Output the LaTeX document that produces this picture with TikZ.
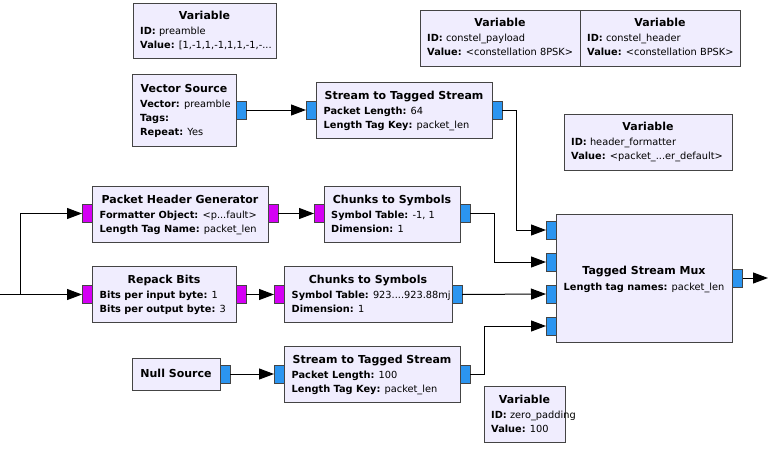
\documentclass[tikz,border=0pt]{standalone}
\usepackage{fontspec}
\setmainfont{DejaVu Sans}
\usetikzlibrary{arrows.meta}
\definecolor{blkfill}{HTML}{F0EDFE}
\definecolor{bordc}{HTML}{444444}
\definecolor{portblue}{HTML}{2B95F0}
\definecolor{portmag}{HTML}{D400F4}
\newcommand{\ttlfont}{\fontsize{11}{13}\selectfont\bfseries}
\newcommand{\bodyfont}{\fontsize{9.8}{12}\selectfont}
\newcommand{\kv}[2]{\textbf{#1} #2}
\tikzset{
  blk/.style={draw=bordc, fill=blkfill, line width=1pt, anchor=north west, inner sep=0pt, outer sep=0pt},
  bport/.style={draw=bordc, fill=portblue, line width=0.8pt, minimum width=10pt, minimum height=18pt, inner sep=0pt, outer sep=0pt},
  mport/.style={bport, fill=portmag},
  ttl/.style={font=\ttlfont, anchor=base, inner sep=0pt},
  txt/.style={font=\bodyfont, anchor=base west, inner sep=0pt},
  wire/.style={line width=1pt, -{Triangle[length=15pt,width=11pt]}},
  plain/.style={line width=1pt},
}
\begin{document}
\begin{tikzpicture}[x=1pt,y=-1pt]
\useasboundingbox (0,0) rectangle (768,450);
% ---------- boxes ----------
\node[blk, minimum width=143pt, minimum height=55pt] (var1) at (133,3) {};
\node[blk, minimum width=104pt, minimum height=72pt] (vs) at (132,74) {};
\node[blk, minimum width=176pt, minimum height=56pt] (stst) at (316,82) {};
\node[blk, minimum width=160pt, minimum height=56pt] (varp) at (420,10) {};
\node[blk, minimum width=160pt, minimum height=56pt] (varh) at (580,10) {};
\node[blk, minimum width=168pt, minimum height=56pt] (varhf) at (564,114) {};
\node[blk, minimum width=176pt, minimum height=56pt] (phg) at (92,186) {};
\node[blk, minimum width=136pt, minimum height=56pt] (cht) at (324,186) {};
\node[blk, minimum width=144pt, minimum height=56pt] (rp) at (92,266) {};
\node[blk, minimum width=168pt, minimum height=56pt] (chb) at (284,266) {};
\node[blk, minimum width=176pt, minimum height=128pt] (mux) at (556,214) {};
\node[blk, minimum width=88pt, minimum height=32pt] (nul) at (132,358) {};
\node[blk, minimum width=176pt, minimum height=56pt] (stsb) at (284,346) {};
\node[blk, minimum width=81pt, minimum height=56pt] (varz) at (484,386) {};
% ---------- texts ----------
\node[ttl] (t1a) at (204.5,19) {Variable};
\node[txt] (t1b) at (140,34) {\kv{ID:}{preamble}};
\node[txt] (t1c) at (140,48) {\kv{Value:}{[1,-1,1,-1,1,1,-1,-...}};

\node[ttl] (t2a) at (184,92) {Vector Source};
\node[txt] (t2b) at (140,107) {\kv{Vector:}{preamble}};
\node[txt] (t2c) at (140,121) {\kv{Tags:}{}};
\node[txt] (t2d) at (140,135) {\kv{Repeat:}{Yes}};

\node[ttl] (t3a) at (404,99) {Stream to Tagged Stream};
\node[txt] (t3b) at (323.5,114) {\kv{Packet Length:}{64}};
\node[txt] (t3c) at (323.5,128) {\kv{Length Tag Key:}{packet\_len}};

\node[ttl] (t4a) at (500,26) {Variable};
\node[txt] (t4b) at (427,41) {\kv{ID:}{constel\_payload}};
\node[txt] (t4c) at (427,55) {\kv{Value:}{<constellation 8PSK>}};

\node[ttl] (t5a) at (660,26) {Variable};
\node[txt] (t5b) at (587,41) {\kv{ID:}{constel\_header}};
\node[txt] (t5c) at (587,55) {\kv{Value:}{<constellation BPSK>}};

\node[ttl] (t6a) at (648,130) {Variable};
\node[txt] (t6b) at (571,145) {\kv{ID:}{header\_formatter}};
\node[txt] (t6c) at (571,159) {\kv{Value:}{<packet\_...er\_default>}};

\node[ttl] (t7a) at (180,203) {Packet Header Generator};
\node[txt] (t7b) at (99.5,218) {\kv{Formatter Object:}{<p...fault>}};
\node[txt] (t7c) at (99.5,232) {\kv{Length Tag Name:}{packet\_len}};

\node[ttl] (t8a) at (392,203) {Chunks to Symbols};
\node[txt] (t8b) at (331,218) {\kv{Symbol Table:}{-1, 1}};
\node[txt] (t8c) at (331,232) {\kv{Dimension:}{1}};

\node[ttl] (t9a) at (164,283) {Repack Bits};
\node[txt] (t9b) at (99.5,298) {\kv{Bits per input byte:}{1}};
\node[txt] (t9c) at (99.5,312) {\kv{Bits per output byte:}{3}};

\node[ttl] (t10a) at (368,283) {Chunks to Symbols};
\node[txt] (t10b) at (291.5,298) {\kv{Symbol Table:}{923....923.88mj}};
\node[txt] (t10c) at (291.5,312) {\kv{Dimension:}{1}};

\node[ttl] (t11a) at (644,274) {Tagged Stream Mux};
\node[txt] (t11b) at (563.5,290) {\kv{Length tag names:}{packet\_len}};

\node[ttl] (t12a) at (176,377) {Null Source};

\node[ttl] (t13a) at (372,363) {Stream to Tagged Stream};
\node[txt] (t13b) at (291.5,378) {\kv{Packet Length:}{100}};
\node[txt] (t13c) at (291.5,392) {\kv{Length Tag Key:}{packet\_len}};

\node[ttl] (t14a) at (524.5,403) {Variable};
\node[txt] (t14b) at (491,418) {\kv{ID:}{zero\_padding}};
\node[txt] (t14c) at (491,432) {\kv{Value:}{100}};
% ---------- ports ----------
\node[bport] (vso) at (241,110) {};
\node[bport] (ststi) at (311,110) {};
\node[bport] (ststo) at (497,110) {};
\node[mport] (phgi) at (87,213.5) {};
\node[mport] (phgo) at (273,213.5) {};
\node[mport] (chti) at (319,213.5) {};
\node[bport] (chto) at (465,213.5) {};
\node[mport] (rpi) at (87,294.5) {};
\node[mport] (rpo) at (241,294.5) {};
\node[mport] (chbi) at (279,294.5) {};
\node[bport] (chbo) at (457,294.5) {};
\node[bport] (muxi1) at (551,230) {};
\node[bport] (muxi2) at (551,262) {};
\node[bport] (muxi3) at (551,294) {};
\node[bport] (muxi4) at (551,326) {};
\node[bport] (muxo) at (737.5,278) {};
\node[bport] (nulo) at (225,374) {};
\node[bport] (stsbi) at (279,374) {};
\node[bport] (stsbo) at (465,374) {};
% ---------- connectors ----------
\coordinate (inl) at (0,294.5);
\coordinate (jn) at (20,294.5);
\coordinate (outend) at (768,278);
\draw[plain] (inl) -- (jn);
\draw[wire] (jn) -- (rpi.west);
\draw[wire] (jn) |- (phgi.west);
\draw[wire] (vso.east) -- (ststi.west);
\draw[wire] (phgo.east) -- (chti.west);
\draw[wire] (rpo.east) -- (chbi.west);
\draw[wire] (nulo.east) -- (stsbi.west);
\draw[wire] (ststo.east) -- ++(14,0) |- (muxi1.west);
\draw[wire] (chto.east) -- ++(24,0) |- (muxi2.west);
\draw[wire] (chbo.east) -- (muxi3.west);
\draw[wire] (stsbo.east) -- ++(14,0) |- (muxi4.west);
\draw[wire] (muxo.east) -- (outend);
\end{tikzpicture}
\end{document}
